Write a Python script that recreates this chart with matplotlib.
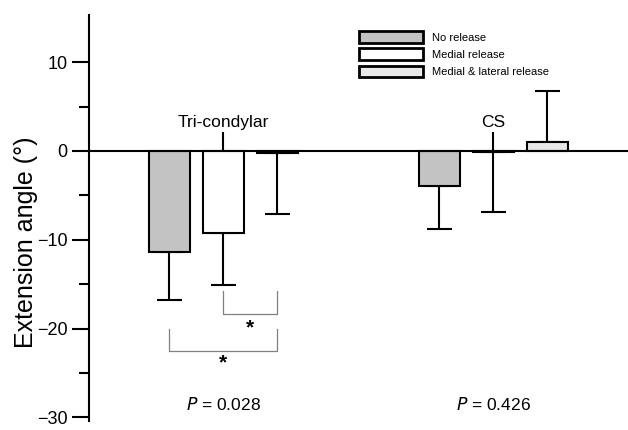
import matplotlib
matplotlib.use('Agg')
import matplotlib.pyplot as plt
import numpy as np

plt.rcParams['font.family'] = ['Liberation Sans', 'DejaVu Sans']

# data
groups = ['Tri-condylar', 'CS']
series = ['No release', 'Medial release', 'Medial & lateral release']
means = {
    'No release': [-11.4, -4.0],
    'Medial release': [-9.2, -0.1],
    'Medial & lateral release': [-0.2, 0.95],
}
errs = {
    'No release': [5.35, 4.75],
    'Medial release': [5.85, 6.8],
    'Medial & lateral release': [6.85, 5.8],
}
p_values = ['0.028', '0.426']
# significance brackets: (series a, series b, bracket top, bracket bottom, star y)
brackets = [
    (1, 2, -15.8, -18.3, -19.9),
    (0, 2, -20.0, -22.5, -23.9),
]

colors = ['#c3c3c3', 'white', '#e8e8e8']
width = 0.152
offset = 0.2

fig = plt.figure(figsize=(6.28, 4.30), dpi=100)
ax = fig.add_axes([88.5 / 628, 9 / 430, 1 - 88.5 / 628, 406 / 430])

x = np.arange(1, len(groups) + 1)
for i, name in enumerate(series):
    pos = x + (i - 1) * offset
    vals = np.array(means[name])
    ax.bar(pos, vals, width, color=colors[i], edgecolor='black',
           linewidth=1.5, label=name, zorder=2)
    # error bar only away from zero
    lo = np.where(vals < 0, errs[name], 0)
    hi = np.where(vals >= 0, errs[name], 0)
    ax.errorbar(pos, vals, yerr=[lo, hi], fmt='none', ecolor='black',
                elinewidth=1.5, capsize=9, capthick=1.5, zorder=1)

for a, b, top, bot, sy in brackets:
    xa = x[0] + (a - 1) * offset
    xb = x[0] + (b - 1) * offset
    ax.plot([xa, xa, xb, xb], [top, bot, bot, top], color='#808080', lw=0.9)
    ax.text((xa + xb) / 2, sy, '*', ha='center', va='center',
            fontsize=15, fontweight='bold')

for xi, g in zip(x, groups):
    ax.text(xi, 2.3, g, ha='center', va='bottom', fontsize=12.5)
for xi, p in zip(x, p_values):
    ax.text(xi, -28.5, f'$\\it{{P}}$ = {p}', ha='center', va='center',
            fontsize=12.5)

ax.set_xlim(0.5, 2.5)
ax.set_ylim(-30.4, 15.3)
ax.set_yticks([-30, -20, -10, 0, 10])
ax.set_yticklabels(['\u221230', '\u221220', '\u221210', '0', '10'])
ax.set_yticks(np.arange(-25, 15, 10), minor=True)
ax.tick_params(axis='y', which='major', length=12, width=1.5, labelsize=13, pad=3)
ax.tick_params(axis='y', which='minor', length=7, width=1.5)
ax.set_xticks(x)
ax.set_xticklabels([])
ax.tick_params(axis='x', direction='in', length=14, width=1.5)

ax.spines['bottom'].set_position(('data', 0))
ax.spines['bottom'].set_linewidth(1.5)
ax.spines['left'].set_linewidth(1.5)
ax.spines['top'].set_visible(False)
ax.spines['right'].set_visible(False)
ax.spines['bottom'].set_zorder(3)

ax.set_ylabel('Extension angle (°)', fontsize=18)
ax.yaxis.set_label_coords(-0.094, 0.44)

leg = ax.legend(loc='upper left', bbox_to_anchor=(359 / 628, 1 - 31 / 430),
                bbox_transform=fig.transFigure, frameon=False, fontsize=8,
                handlelength=5.8, handleheight=1.25, labelspacing=0.5,
                handletextpad=0.8, borderpad=0, borderaxespad=0)
for h in leg.legend_handles:
    h.set_linewidth(2)

fig.savefig('out.png', dpi=100)
